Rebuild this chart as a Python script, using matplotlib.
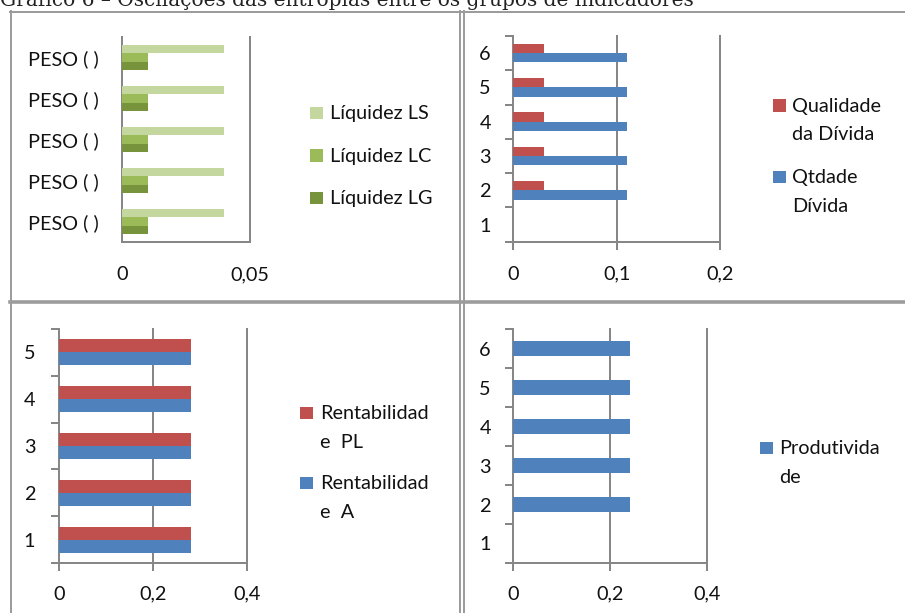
import matplotlib
matplotlib.use("Agg")
import matplotlib.pyplot as plt
from matplotlib.patches import Rectangle
from matplotlib.lines import Line2D
from matplotlib.ticker import FixedLocator

# ---- data ----
peso_labels = ["PESO ( )", "PESO ( )", "PESO ( )", "PESO ( )", "PESO ( )"]
liquidez_ls = [0.04, 0.04, 0.04, 0.04, 0.04]
liquidez_lc = [0.01, 0.01, 0.01, 0.01, 0.01]
liquidez_lg = [0.01, 0.01, 0.01, 0.01, 0.01]

divida_cats = ["1", "2", "3", "4", "5", "6"]
qualidade_divida = [0, 0.03, 0.03, 0.03, 0.03, 0.03]
qtdade_divida = [0, 0.11, 0.11, 0.11, 0.11, 0.11]

rent_cats = ["1", "2", "3", "4", "5"]
rentabilidade_pl = [0.28, 0.28, 0.28, 0.28, 0.28]
rentabilidade_a = [0.28, 0.28, 0.28, 0.28, 0.28]

prod_cats = ["1", "2", "3", "4", "5", "6"]
produtividade = [0, 0.24, 0.24, 0.24, 0.24, 0.24]

title = "Gráfico 6 – Oscilações das entropias entre os grupos de indicadores"

# ---- style ----
W, H = 905, 613
DPI = 100
FONT = "Lato"
FS = 14.3
AXCOL = "#878787"
BORDER = "#9c9c9c"
C_LS, C_LC, C_LG = "#C4D79F", "#9BBB59", "#77933C"
C_RED, C_BLUE = "#C0504D", "#4F81BD"

plt.rcParams["font.family"] = [FONT, "DejaVu Sans"]

fig = plt.figure(figsize=(W / DPI, H / DPI), dpi=DPI)
fig.patch.set_facecolor("white")


def fx(px):
    return px / W


def fy(py):
    return 1 - py / H


def pt(px):
    return px * 72 / DPI


def make_axes(left, top, right, bottom):
    return fig.add_axes([fx(left), fy(bottom), (right - left) / W, (bottom - top) / H])


def style_axes(ax, xmax, xticks, xlabels, n, ylabels, ticks=True, ypad=23, xpad=None):
    ax.set_xlim(0, xmax)
    ax.set_ylim(0.5, n + 0.5)
    for s in ("top", "right"):
        ax.spines[s].set_visible(False)
    for s in ("left", "bottom"):
        ax.spines[s].set_color(AXCOL)
        ax.spines[s].set_linewidth(pt(2))
    ax.set_xticks(xticks)
    ax.set_xticklabels(xlabels)
    ax.set_yticks(range(1, n + 1))
    ax.set_yticklabels(ylabels)
    ax.tick_params(axis="y", which="major", length=0, pad=pt(ypad), labelsize=FS,
                   labelcolor="#111111")
    if ticks:
        ax.yaxis.set_minor_locator(FixedLocator([k + 0.5 for k in range(0, n + 1)]))
        ax.tick_params(axis="y", which="minor", length=pt(8), width=pt(2), color=AXCOL,
                       direction="out")
        ax.tick_params(axis="x", which="major", length=pt(8), width=pt(2), color=AXCOL,
                       direction="out", pad=pt(xpad if xpad is not None else 16),
                       labelsize=FS, labelcolor="#111111")
    else:
        ax.tick_params(axis="x", which="major", length=0,
                       pad=pt(xpad if xpad is not None else 24.5), labelsize=FS,
                       labelcolor="#111111")
    ax.grid(axis="x", color=AXCOL, linewidth=pt(2))
    for gl in ax.get_xgridlines():
        gl.set_clip_on(False)
    ax.set_axisbelow(True)
    ax.set_facecolor("none")


# ---- panel borders ----
def hline(y, x0, x1, lw=2.0, color=BORDER):
    fig.add_artist(Line2D([fx(x0), fx(x1)], [fy(y), fy(y)], color=color,
                          linewidth=pt(lw), transform=fig.transFigure))


def vline(x, y0, y1, lw=2.0, color=BORDER):
    fig.add_artist(Line2D([fx(x), fx(x)], [fy(y0), fy(y1)], color=color,
                          linewidth=pt(lw), transform=fig.transFigure))


hline(11.5, 10, W)
vline(10.5, 11, H)
vline(460.3, 11, H)
vline(463.7, 11, H)
hline(302, 10, W, lw=3.6)

# ---- title (its upper part runs past the top edge) ----
t = fig.text(0.0, fy(6.5), title, family="DejaVu Serif", fontsize=12,
             ha="left", va="baseline", color="#222222")
r = fig.canvas.get_renderer()
w = t.get_window_extent(r).width
t.set_fontsize(12 * 690 / w)

# ---- panel 1: liquidez ----
ax1 = make_axes(122, 37, 250, 242)
y = range(1, 6)
h1 = 0.21
ax1.barh([v + h1 for v in y], liquidez_ls, height=h1, color=C_LS, zorder=3)
ax1.barh(list(y), liquidez_lc, height=h1, color=C_LC, zorder=3)
ax1.barh([v - h1 for v in y], liquidez_lg, height=h1, color=C_LG, zorder=3)
style_axes(ax1, 0.05, [0, 0.05], ["0", "0,05"], 5, peso_labels, ticks=False, ypad=23.5)

# ---- panel 2: dívida ----
ax2 = make_axes(513.3, 36, 720, 241.7)
y = range(1, 7)
h2 = 0.27
ax2.barh([v + h2 / 2 for v in y], qualidade_divida, height=h2, color=C_RED, zorder=3)
ax2.barh([v - h2 / 2 for v in y], qtdade_divida, height=h2, color=C_BLUE, zorder=3)
style_axes(ax2, 0.2, [0, 0.1, 0.2], ["0", "0,1", "0,2"], 6, divida_cats, ypad=22.5)

# ---- panel 3: rentabilidade ----
ax3 = make_axes(59.3, 329, 247.3, 563)
y = range(1, 6)
h3 = 0.278
ax3.barh([v + h3 / 2 for v in y], rentabilidade_pl, height=h3, color=C_RED, zorder=3)
ax3.barh([v - h3 / 2 for v in y], rentabilidade_a, height=h3, color=C_BLUE, zorder=3)
style_axes(ax3, 0.4, [0, 0.2, 0.4], ["0", "0,2", "0,4"], 5, rent_cats, ypad=24, xpad=14.5)

# ---- panel 4: produtividade ----
ax4 = make_axes(513.3, 329, 707.3, 563)
y = range(1, 7)
ax4.barh(list(y), produtividade, height=0.385, color=C_BLUE, zorder=3)
style_axes(ax4, 0.4, [0, 0.2, 0.4], ["0", "0,2", "0,4"], 6, prod_cats, ypad=22.5, xpad=14.5)


# ---- legends ----
def legend_entry(x_sq, x_txt, baseline, lines, color, pitch=28.6, size=12.5):
    fig.add_artist(Rectangle((fx(x_sq), fy(baseline)), size / W, size / H,
                             facecolor=color, edgecolor="none", transform=fig.transFigure))
    for i, line in enumerate(lines):
        fig.text(fx(x_txt), fy(baseline + i * pitch), line, fontsize=FS,
                 ha="left", va="baseline", color="#111111")


legend_entry(310, 330, 119.3, ["Líquidez LS"], C_LS)
legend_entry(310, 330, 161.7, ["Líquidez LC"], C_LC)
legend_entry(310, 330, 204.3, ["Líquidez LG"], C_LG)

legend_entry(773.3, 791.7, 111.7, ["Qualidade", "da Dívida"], C_RED)
legend_entry(773.3, 791.7, 183.3, ["Qtdade", "Dívida"], C_BLUE)

legend_entry(300, 320, 419, ["Rentabilidad", "e  PL"], C_RED)
legend_entry(300, 320, 489.3, ["Rentabilidad", "e  A"], C_BLUE)

legend_entry(760, 779.3, 454, ["Produtivida", "de"], C_BLUE)

fig.savefig("out.png", dpi=DPI, facecolor="white")
